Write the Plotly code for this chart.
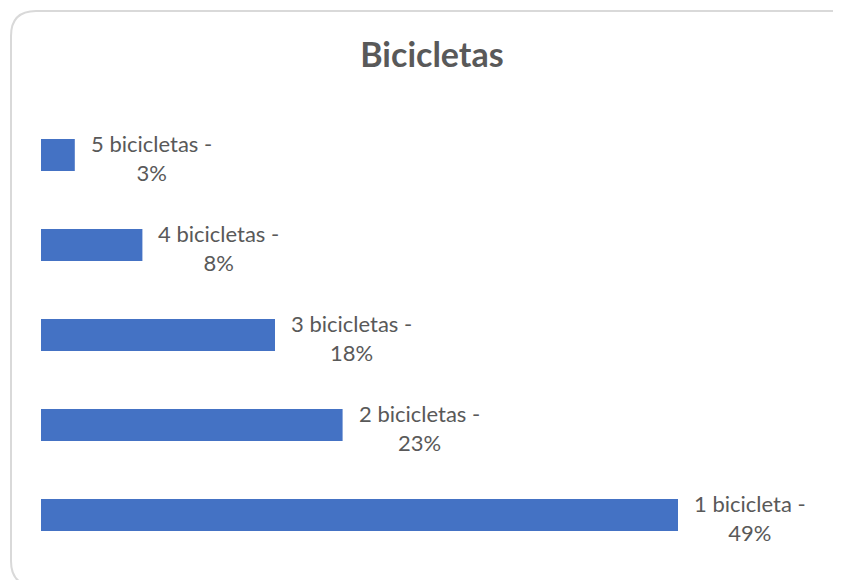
import plotly.graph_objects as go

categories = ["1 bicicleta", "2 bicicletas", "3 bicicletas", "4 bicicletas", "5 bicicletas"]
values = [49.0, 23.2, 18.0, 7.8, 2.6]
pct_labels = ["49%", "23%", "18%", "8%", "3%"]

OFF = 8  # default page body margin
W, H = 841 - OFF, 580 - OFF
ML, MT = 41 - OFF, 110 - OFF
MR, MB = W - (800 - OFF), H - (560 - OFF)
PW, PH = W - ML - MR, H - MT - MB
TEXT = "#595959"
FONT = "Lato, Open Sans, sans-serif"

fig = go.Figure(go.Bar(
    x=values, y=categories, orientation="h",
    marker=dict(color="#4472c4", line=dict(width=0)),
    width=0.356, hoverinfo="skip",
))

for c, v, p in zip(categories, values, pct_labels):
    fig.add_annotation(x=v, y=c, xref="x", yref="y", text=f"{c} -<br>{p}",
                       showarrow=False, xanchor="left", yanchor="middle",
                       xshift=14, yshift=-3, align="center",
                       font=dict(size=22, color=TEXT, family=FONT))

def px(x):
    return (x - OFF - ML) / PW

def py(y):
    return (H - MB - (y - OFF)) / PH

x0, y0, x1, y1, r = 11, 11, 855, 586, 25
path = (f"M {px(x0+r)},{py(y0)} L {px(x1-r)},{py(y0)} "
        f"Q {px(x1)},{py(y0)} {px(x1)},{py(y0+r)} L {px(x1)},{py(y1-r)} "
        f"Q {px(x1)},{py(y1)} {px(x1-r)},{py(y1)} L {px(x0+r)},{py(y1)} "
        f"Q {px(x0)},{py(y1)} {px(x0)},{py(y1-r)} L {px(x0)},{py(y0+r)} "
        f"Q {px(x0)},{py(y0)} {px(x0+r)},{py(y0)} Z")
fig.add_shape(type="path", path=path, xref="paper", yref="paper",
              line=dict(color="#d9d9d9", width=2), layer="below")

fig.update_layout(
    width=W, height=H,
    margin=dict(l=ML, r=MR, t=MT, b=MB),
    paper_bgcolor="white", plot_bgcolor="white",
    showlegend=False,
    title=dict(text="<b>Bicicletas</b>", x=(432 - OFF) / W, xanchor="center",
               y=1 - (55 - OFF) / H, yanchor="middle", yref="container",
               font=dict(size=34, color=TEXT, family=FONT)),
    xaxis=dict(range=[0, 49.0 * PW / 637], visible=False, fixedrange=True),
    yaxis=dict(type="category", range=[-0.5, 4.5], visible=False, fixedrange=True),
)

fig.write_html("out.html", config={"displayModeBar": False})
